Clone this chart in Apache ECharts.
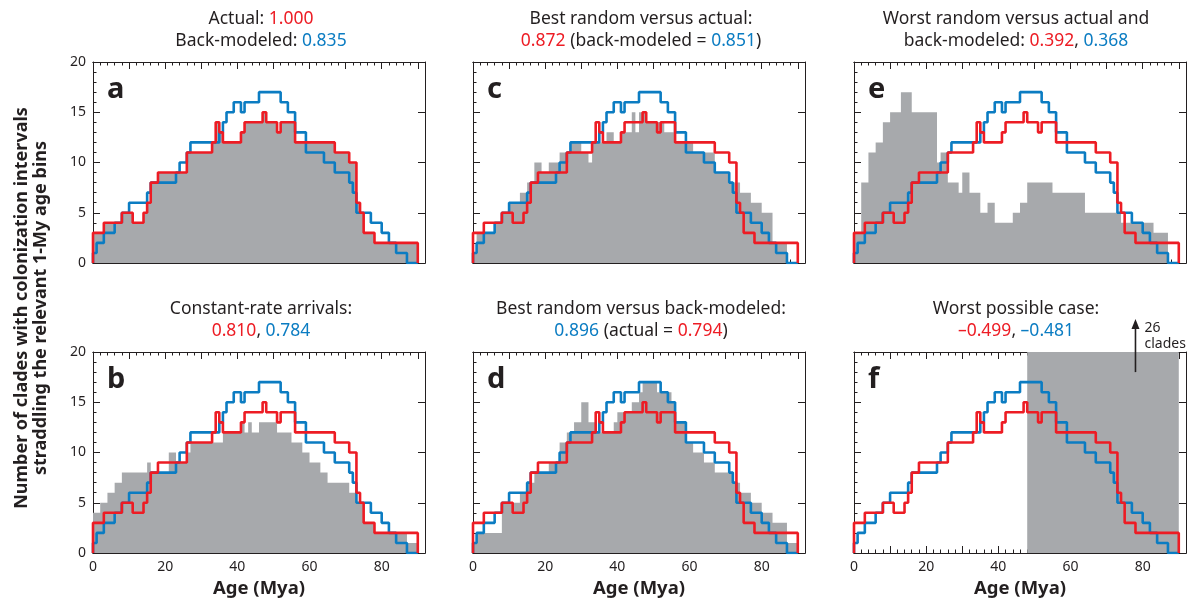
<!DOCTYPE html>
<html>
<head>
<meta charset="utf-8">
<script src="https://cdn.jsdelivr.net/npm/echarts@6/dist/echarts.min.js"></script>
<style>
  html, body { margin: 0; padding: 0; background: #fff; }
  #chart { width: 1194px; height: 610px; }
</style>
</head>
<body>
<div id="chart"></div>
<script>
// step histograms: [bin start (Mya), clades] ... last entry closes the line
const actual = [[0,3],[3,4],[8,5],[11,4],[14,5],[15,6],[16,8],[18,9],[26,11],[33,12],[34,14],[35,13],[36,12],[41,13],[42,14],[47,15],[48,14],[51,13],[52,14],[56,12],[67,11],[71,10],[73,6],[74,5],[75,3],[78,2],[90,0]];
const backModeled = [[0,1],[1,2],[3,3],[6,4],[8,5],[10,6],[15,7],[16,8],[23,9],[24,10],[26,11],[27,12],[35,13],[36,14],[37,15],[39,16],[41,15],[42,16],[46,17],[52,16],[54,15],[56,13],[59,11],[64,10],[67,9],[71,8],[72,7],[73,5],[77,4],[80,3],[82,2],[84,1],[87,0],[90,0]];

const constantRate = [[0,4],[2,5],[4,6],[6,7],[8,8],[15,9],[16,8],[21,10],[23,9],[26,10],[27,11],[36,12],[41,13],[42,12],[43,13],[44,12],[46,13],[51,12],[55,11],[58,10],[60,9],[63,8],[65,7],[71,6],[73,5],[75,3],[78,2],[87,1],[90,0]];
const bestVsActual = [[0,1],[1,3],[6,4],[8,5],[10,6],[13,7],[15,8],[17,10],[19,9],[21,10],[24,11],[27,12],[30,11],[32,10],[33,12],[37,13],[39,12],[41,13],[44,15],[45,13],[46,15],[48,14],[53,13],[56,12],[61,11],[67,9],[71,8],[74,7],[77,6],[80,5],[83,2],[87,0]];
const bestVsBack = [[0,1],[1,2],[8,5],[13,6],[15,7],[17,8],[21,9],[24,11],[26,12],[28,13],[30,15],[32,13],[34,12],[39,13],[40,14],[44,15],[46,16],[47,17],[51,16],[55,15],[56,13],[59,11],[61,10],[64,9],[67,8],[72,7],[74,6],[77,5],[80,4],[83,3],[87,1],[90,0]];
const worstVsBoth = [[0,3],[2,8],[4,11],[6,12],[8,14],[10,15],[13,17],[16,15],[23,10],[24,11],[26,8],[29,7],[30,9],[32,7],[35,5],[37,6],[39,4],[44,5],[46,6],[48,8],[55,7],[64,5],[74,4],[83,3],[87,0]];
const worstCase = [[48,26],[90,0]];

const xTicks = [0, 20, 40, 60, 80];
const yTicks = [0, 5, 10, 15, 20];

const ink = '#231f20';
const red = '#ed1c24';
const blue = '#0b7cc2';
const gray = '#a7a9ac';
const font = 'Noto Sans';

const lefts = [93, 473, 854];
const tops = [62, 352];
const W = 332, H = 201;

const panels = [
  { letter: 'a', col: 0, row: 0, gray: actual,
    title: '{k|Actual: }{r|1.000}\n{k|Back-modeled: }{b|0.835}' },
  { letter: 'b', col: 0, row: 1, gray: constantRate,
    title: '{k|Constant-rate arrivals:}\n{r|0.810}{k|, }{b|0.784}' },
  { letter: 'c', col: 1, row: 0, gray: bestVsActual,
    title: '{k|Best random versus actual:}\n{r|0.872}{k| (back-modeled = }{b|0.851}{k|)}' },
  { letter: 'd', col: 1, row: 1, gray: bestVsBack,
    title: '{k|Best random versus back-modeled:}\n{b|0.896}{k| (actual = }{r|0.794}{k|)}' },
  { letter: 'e', col: 2, row: 0, gray: worstVsBoth,
    title: '{k|Worst random versus actual and}\n{k|back-modeled: }{r|0.392}{k|, }{b|0.368}' },
  { letter: 'f', col: 2, row: 1, gray: worstCase,
    title: '{k|Worst possible case:}\n{r|\u20130.499}{k|, }{b|\u20130.481}' }
];

function steps(runs) {
  const pts = [[0, 0]];
  runs.forEach(r => pts.push([r[0], r[1]]));
  return pts;
}

const titleCenters = [261, 641, 1016];
const rich = {
  k: { color: ink, fontSize: 17.5, fontFamily: font, fontWeight: 'normal', lineHeight: 22 },
  r: { color: red, fontSize: 17.5, fontFamily: font, fontWeight: 'normal', lineHeight: 22 },
  b: { color: blue, fontSize: 17.5, fontFamily: font, fontWeight: 'normal', lineHeight: 22 }
};

let grid = [], xAxis = [], yAxis = [], series = [], title = [], graphic = [];

panels.forEach((p, i) => {
  const left = lefts[p.col], top = tops[p.row];
  grid.push({ left: left, top: top, width: W, height: H, containLabel: false });

  const xBase = {
    gridIndex: i, type: 'value', min: 0, max: 92,
    axisLine: { show: true, onZero: false, lineStyle: { color: ink, width: 1 } },
    splitLine: { show: false }
  };
  // bottom major (with labels)
  xAxis.push(Object.assign({}, xBase, {
    position: 'bottom', interval: 10,
    axisTick: { inside: true, length: 7, lineStyle: { color: ink } },
    axisLabel: {
      show: p.row === 1, margin: 7, fontSize: 14, color: ink, fontFamily: font,
      formatter: v => xTicks.indexOf(v) >= 0 ? String(v) : ''
    },
    name: p.row === 1 ? 'Age (Mya)' : '', nameLocation: 'middle', nameGap: 26,
    nameTextStyle: { fontSize: 18.5, fontWeight: 'bold', color: ink, fontFamily: font }
  }));
  // bottom minor
  xAxis.push(Object.assign({}, xBase, {
    position: 'bottom', interval: 2,
    axisTick: { inside: true, length: 3.5, lineStyle: { color: ink } },
    axisLabel: { show: false }
  }));
  // top major
  xAxis.push(Object.assign({}, xBase, {
    position: 'top', interval: 10,
    axisTick: { inside: true, length: 7, lineStyle: { color: ink } },
    axisLabel: { show: false }
  }));
  // top minor
  xAxis.push(Object.assign({}, xBase, {
    position: 'top', interval: 2,
    axisTick: { inside: true, length: 3.5, lineStyle: { color: ink } },
    axisLabel: { show: false }
  }));

  yAxis.push({
    gridIndex: i, type: 'value', min: 0, max: 20, interval: 5, position: 'left',
    axisLine: { show: true, onZero: false, lineStyle: { color: ink, width: 1 } },
    axisTick: { inside: true, length: 7, lineStyle: { color: ink } },
    minorTick: { show: true, splitNumber: 5, length: 3.5, lineStyle: { color: ink } },
    splitLine: { show: false }, minorSplitLine: { show: false },
    axisLabel: {
      show: p.col === 0, margin: 7, fontSize: 14, color: ink, fontFamily: font,
      formatter: v => yTicks.indexOf(v) >= 0 ? String(v) : ''
    }
  });
  yAxis.push({
    gridIndex: i, type: 'value', min: 0, max: 20, interval: 5, position: 'right',
    axisLine: { show: true, onZero: false, lineStyle: { color: ink, width: 1 } },
    axisTick: { inside: true, length: 7, lineStyle: { color: ink } },
    splitLine: { show: false }, axisLabel: { show: false }
  });

  const xi = i * 4, yi = i * 2;
  series.push({
    type: 'line', step: 'end', xAxisIndex: xi, yAxisIndex: yi, data: steps(p.gray),
    symbol: 'none', lineStyle: { width: 0 }, areaStyle: { color: gray, opacity: 1 },
    silent: true, animation: false, clip: true, z: 1
  });
  series.push({
    type: 'line', step: 'end', xAxisIndex: xi, yAxisIndex: yi, data: steps(backModeled),
    symbol: 'none', lineStyle: { width: 2.6, color: blue }, silent: true, animation: false, z: 2
  });
  series.push({
    type: 'line', step: 'end', xAxisIndex: xi, yAxisIndex: yi, data: steps(actual),
    symbol: 'none', lineStyle: { width: 2.6, color: red }, silent: true, animation: false, z: 3
  });

  title.push({
    text: p.title, left: titleCenters[p.col], top: p.row === 0 ? 8 : 298,
    textAlign: 'center', padding: 0,
    textStyle: { rich: rich, lineHeight: 22, fontWeight: 'normal' }
  });

  graphic.push({
    type: 'text', left: left + 14, top: top + 13, z: 10,
    style: { text: p.letter, font: 'bold 29px "' + font + '"', fill: ink }
  });
});

graphic.push({
  type: 'text', x: 22, y: 308, rotation: Math.PI / 2,
  style: { text: 'Number of clades with colonization intervals', font: 'bold 18px "' + font + '"',
    fill: ink, align: 'center', verticalAlign: 'middle' }
});
graphic.push({
  type: 'text', x: 41, y: 308, rotation: Math.PI / 2,
  style: { text: 'straddling the relevant 1-My age bins', font: 'bold 18px "' + font + '"',
    fill: ink, align: 'center', verticalAlign: 'middle' }
});

const chart = echarts.init(document.getElementById('chart'), null, { renderer: 'canvas' });
chart.setOption({
  animation: false,
  backgroundColor: '#fff',
  title: title, grid: grid, xAxis: xAxis, yAxis: yAxis, series: series, graphic: graphic
});

// arrow marking the off-scale 26 clades in panel f
const base = chart.convertToPixel({ xAxisIndex: 20, yAxisIndex: 10 }, [78, 18]);
const tipY = tops[1] - 33;
chart.setOption({
  graphic: graphic.concat([
    { type: 'line', shape: { x1: base[0], y1: base[1], x2: base[0], y2: tipY + 8 },
      style: { stroke: ink, lineWidth: 1.6 }, z: 10 },
    { type: 'polygon', shape: { points: [[base[0], tipY], [base[0] - 4, tipY + 10], [base[0] + 4, tipY + 10]] },
      style: { fill: ink }, z: 10 },
    { type: 'text', x: base[0] + 9, y: tipY + 1, z: 10,
      style: { text: '26\nclades', font: '14px "' + font + '"', fill: ink, lineHeight: 16 } }
  ])
});
</script>
</body>
</html>
